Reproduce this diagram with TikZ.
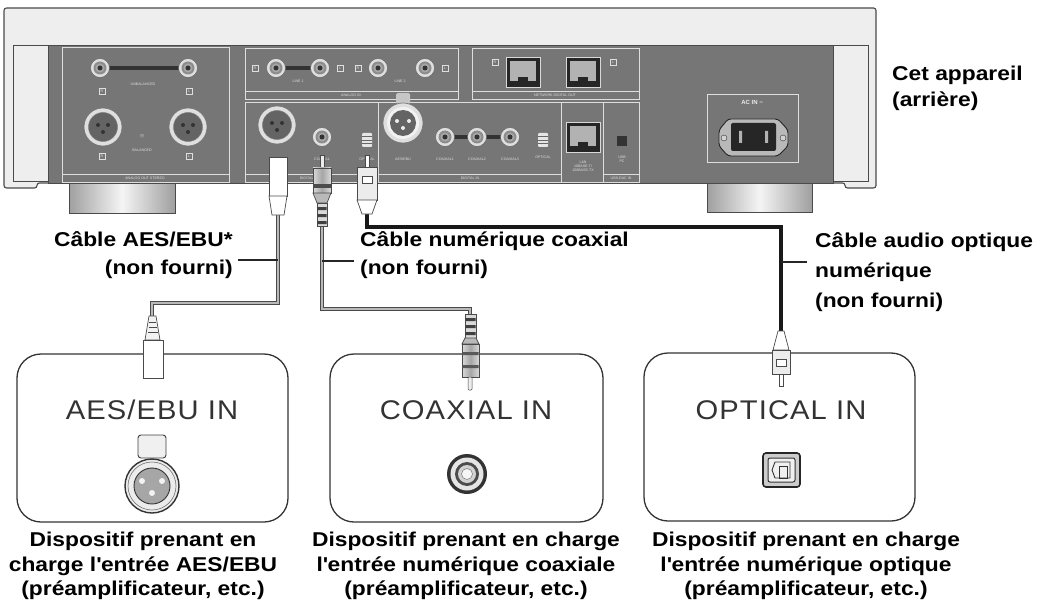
\documentclass[tikz,border=0pt]{standalone}
\usepackage{fontspec}
\setmainfont{Liberation Sans}
\newfontfamily\lblfont[FakeStretch=1.14]{Liberation Sans}
\newfontfamily\boxfont[FakeStretch=1.08,LetterSpace=4]{Liberation Sans}
\definecolor{panel}{HTML}{767676}
\definecolor{chassis}{HTML}{EEEEEE}
\definecolor{outl}{HTML}{4A4A4A}
\definecolor{secline}{HTML}{DEDEDE}
\begin{document}
\begin{tikzpicture}[x=1pt,y=-1pt,
  sec/.style={draw=secline, line width=0.9pt},
  tinytxt/.style={font=\fontsize{3.6}{4}\selectfont, text=white!88!black, inner sep=0pt, align=center},
  rl/.style={draw=secline, line width=0.5pt, font=\fontsize{3.6}{4}\selectfont, text=white!88!black, inner sep=0.8pt, minimum size=6pt},
  cableg/.style={draw=outl, line width=0.9pt, double=gray!55, double distance=2.6pt},
  cableb/.style={draw=black!90, line width=3.8pt},
  leader/.style={draw=black!85, line width=1.3pt},
  plugl/.style={draw=outl, line width=0.7pt},
  devbox/.style={draw=black!80, line width=1.3pt, rounded corners=24pt, minimum width=271pt, minimum height=168pt, inner sep=0pt},
  boxlbl/.style={font=\boxfont\fontsize{27}{27}\selectfont, text=black!80, inner sep=0pt},
  lbl/.style={font=\lblfont\bfseries\fontsize{20}{28}\selectfont, inner sep=0pt},
  captxt/.style={font=\lblfont\bfseries\fontsize{20}{24.5}\selectfont, inner sep=0pt, align=center},
  rca/.pic={
    \fill[gray!25] (0,0) circle (9.5pt);
    \draw[black!60, line width=0.5pt] (0,0) circle (9.5pt);
    \fill[black!45] (0,0) circle (6.5pt);
    \fill[gray!70] (0,0) circle (4.5pt);
    \fill[black!80] (0,0) circle (2.5pt);},
  xlrm/.pic={
    \fill[gray!25] (0,0) circle (19pt);
    \draw[black!55, line width=0.6pt] (0,0) circle (19pt);
    \fill[panel!85!black] (0,0) circle (14.5pt);
    \draw[black!50, line width=0.5pt] (0,0) circle (14.5pt);
    \fill[black!80] (-5,-2) circle (2pt) (5,-2) circle (2pt) (0,5) circle (2pt);},
  optp/.pic={
    \fill[gray!20, rounded corners=1pt] (-5,-7) rectangle (5,7);
    \draw[black!60, line width=0.5pt] (-5,0) -- (5,0) (-5,-3.5) -- (5,-3.5) (-5,3.5) -- (5,3.5);},
  lan/.pic={
    \fill[black!85] (-17,-15) rectangle (17,15);
    \fill[gray!60] (-13,-11) rectangle (13,9);
    \fill[black!85] (-5,5) rectangle (5,9);
    \draw[gray!30, line width=0.4pt] (-17,-15) rectangle (17,15);}
]
\useasboundingbox (0,0) rectangle (1043,604);

% ---------- feet ----------
\path[left color=gray!75, right color=gray!75, middle color=gray!8, draw=outl, line width=0.8pt] (69,183) rectangle (175,213);
\path[left color=gray!75, right color=gray!75, middle color=gray!8, draw=outl, line width=0.8pt] (707,183) rectangle (812,212);

% ---------- chassis ----------
\path[fill=chassis, draw=outl, line width=1.1pt, rounded corners=2.5pt]
  (4,188) -- (4,8) -- (876,8) -- (876,188) -- (845,188) -- (845,183) -- (37,183) -- (37,188) -- cycle;
\draw[outl, line width=0.8pt] (13,45) -- (868,45);
\draw[outl, line width=0.6pt] (13,45) -- (13,181) -- (48,181);
\draw[outl, line width=0.6pt] (868,45) -- (868,181) -- (833,181);
\path[fill=panel, draw=outl, line width=0.8pt] (48,45) rectangle (833,183);

% ---------- sections ----------
\draw[sec] (62,47) rectangle (229,182) (62,174) -- (229,174);
\draw[sec] (245,48) rectangle (458,99) (245,91) -- (458,91);
\draw[sec] (472,48) rectangle (639,99) (472,91) -- (639,91);
\draw[sec] (245,102) rectangle (639,182) (245,174) -- (561,174) (603,174) -- (639,174);
\draw[sec] (378,102) -- (378,182) (561,102) -- (561,182) (603,102) -- (603,182);
\draw[sec] (707,94) rectangle (798,162);

% analog out
\fill[black!80] (100,66) rectangle (188,70);
\pic at (100,68) {rca};
\pic at (188,68) {rca};
\node[rl] (r1) at (102,91) {R};
\node[rl] (l1) at (189,91) {L};
\node[tinytxt] (t1) at (143,84) {UNBALANCED};
\pic at (103,127) {xlrm};
\pic at (188,127) {xlrm};
\node[tinytxt] (t2) at (142,136) {$\equiv$};
\node[tinytxt] (t3) at (142,150) {BALANCED};
\node[rl] (r2) at (102,156) {R};
\node[rl] (l2) at (189,156) {L};
\node[tinytxt] (t4) at (145,178) {ANALOG OUT STEREO};

% analog in
\fill[black!80] (276,66) rectangle (320,70);
\pic at (276,68) {rca};
\pic at (320,68) {rca};
\pic at (378,68) {rca};
\pic at (425,68) {rca};
\node[rl] (r3) at (255,68) {R};
\node[rl] (l3) at (340,68) {L};
\node[rl] (r4) at (358,68) {R};
\node[rl] (l4) at (445,68) {L};
\node[tinytxt] (t5) at (298,81) {LINE 1};
\node[tinytxt] (t6) at (400,81) {LINE 2};
\node[tinytxt] (t7) at (351,95) {ANALOG IN};

% network digital out
\pic at (523,72) {lan};
\pic at (583,72) {lan};
\node[rl] (r5) at (495,62) {R};
\node[rl] (l5) at (613,62) {L};
\node[tinytxt] (t8) at (555,95) {NETWORK DIGITAL OUT};

% digital out
\pic at (277,125) {xlrm};
\pic at (322,137) {rca};
\pic at (367,140) {optp};
\node[tinytxt] (t9) at (277,159) {AES/EBU};
\node[tinytxt] (t10) at (322,159) {COAXIAL};
\node[tinytxt] (t11) at (367,159) {OPTICAL};
\node[tinytxt] (t12) at (311,178) {DIGITAL OUT};

% digital in
\fill[gray!45, rounded corners=1.5pt] (396,93) rectangle (410,104);
\fill[gray!25] (403,123) circle (20pt);
\draw[black!55, line width=0.6pt] (403,123) circle (20pt);
\fill[gray!10] (403,123) circle (16pt);
\fill[panel!85!black] (403,123) circle (13pt);
\fill[gray!15] (397,121) circle (2pt) (409,121) circle (2pt) (403,128) circle (2pt);
\fill[black!80] (445,135) rectangle (510,139);
\pic at (445,137) {rca};
\pic at (477,137) {rca};
\pic at (510,137) {rca};
\pic at (543,140) {optp};
\node[tinytxt] (t13) at (403,159) {AES/EBU};
\node[tinytxt] (t14) at (445,159) {COAXIAL1};
\node[tinytxt] (t15) at (477,159) {COAXIAL2};
\node[tinytxt] (t16) at (510,159) {COAXIAL3};
\node[tinytxt] (t17) at (543,157) {OPTICAL};
\node[tinytxt] (t18) at (470,178) {DIGITAL IN};

% lan / usb
\pic at (583,137) {lan};
\node[tinytxt] (t19) at (583,166) {LAN\\10BASE-T/\\100BASE-TX};
\fill[black!80] (617,136) rectangle (627,146);
\node[tinytxt] (t20) at (622,159) {USB\\PC};
\node[tinytxt] (t21) at (621,178) {USB-DAC IN};

% AC inlet
\node[font=\bfseries\fontsize{6}{6}\selectfont, text=white!92!black, inner sep=0pt] (acin) at (752,102) {AC IN \textasciitilde};
\path[fill=gray!55, draw=black!85, line width=0.9pt, rounded corners=3pt]
  (719,130) -- (728,119) -- (778,119) -- (788,130) -- (788,146) -- (778,156) -- (728,156) -- (719,146) -- cycle;
\draw[black!80, fill=gray!35] (724,138) circle (3pt) (783,138) circle (3pt);
\fill[black!85, rounded corners=2pt] (731,123) rectangle (776,151);
\fill[gray!60] (739,131) rectangle (742,143) (765,131) rectangle (768,143);

% ---------- cables ----------
\coordinate (aesTop) at (278,214);
\coordinate (aesBend) at (152,303);
\coordinate (aesBot) at (152,317);
\coordinate (coaxTop) at (322,225);
\coordinate (coaxBend) at (470,309);
\coordinate (coaxBot) at (470,315);
\coordinate (optTop) at (367,213);
\coordinate (optBend) at (781,227);
\coordinate (optBot) at (781,332);
\draw[cableg] (aesTop) |- (aesBend) -- (aesBot);
\draw[cableg] (coaxTop) |- (coaxBend) -- (coaxBot);
\draw[cableb] (optTop) |- (optBend) -- (optBot);

% ---------- plugs at the unit ----------
% AES/EBU (XLR)
\draw[plugl, fill=white] (269,157) rectangle (287,196);
\draw[plugl, fill=white] (269,196) -- (287,196) -- (284,215) -- (272,215) -- cycle;
% coaxial (RCA)
\draw[plugl, fill=gray!15, line width=0.5pt] (320,155) rectangle (324,168);
\draw[plugl, left color=gray!30, right color=gray!30, middle color=gray!70] (313,168) rectangle (331,193);
\fill[black!70] (313.4,184) rectangle (330.6,188);
\draw[plugl, fill=gray!55] (313,193) -- (331,193) -- (327,203) -- (317,203) -- cycle;
\draw[plugl, fill=gray!30] (317,203) rectangle (327,226);
\fill[black!75] (317.4,207) rectangle (326.6,210) (317.4,214) rectangle (326.6,217) (317.4,221) rectangle (326.6,224);
% optical
\draw[plugl, fill=white, line width=0.5pt] (365,155) rectangle (369,167);
\draw[plugl, fill=gray!15] (357,167) rectangle (377,200);
\draw[plugl, fill=white, line width=0.5pt] (362,176) rectangle (372,183);
\draw[plugl, fill=white] (357,200) -- (377,200) -- (372,214) -- (362,214) -- cycle;

% ---------- labels and leaders ----------
\node[lbl, align=right, anchor=east] (labAES) at (233,255) {Câble AES/EBU*\\(non fourni)};
\node[lbl, align=left, anchor=west] (labCOAX) at (360,255) {Câble numérique coaxial\\(non fourni)};
\node[lbl, align=left, anchor=west, font=\lblfont\bfseries\fontsize{20}{30}\selectfont] (labOPT) at (815,272) {Câble audio optique\\numérique\\(non fourni)};
\node[lbl, align=left, anchor=west, font=\lblfont\bfseries\fontsize{20}{26}\selectfont] (labDev) at (892,88) {Cet appareil\\(arrière)};
\coordinate (aesLead) at (238,260);
\coordinate (aesTap) at (278,260);
\coordinate (coaxLead) at (354,261);
\coordinate (coaxTap) at (322,261);
\coordinate (optLead) at (807,262);
\coordinate (optTap) at (781,262);
\draw[leader] (aesLead) -- (aesTap);
\draw[leader] (coaxLead) -- (coaxTap);
\draw[leader] (optLead) -- (optTap);

% ---------- device boxes ----------
\node[devbox] (boxAES) at (152.5,438) {};
\node[devbox, minimum width=273pt] (boxCOAX) at (466.5,438) {};
\node[devbox] (boxOPT) at (779.5,437) {};
\node[boxlbl] (tAES) at (152,410) {AES/EBU IN};
\node[boxlbl] (tCOAX) at (466,410) {COAXIAL IN};
\node[boxlbl] (tOPT) at (781,410) {OPTICAL IN};

% XLR female socket
\draw[black!75, line width=0.9pt, fill=gray!12, rounded corners=3pt] (138,435) rectangle (166,458);
\draw[black!80, line width=1.4pt, fill=gray!15] (152,486) circle (27pt);
\draw[black!55, line width=0.6pt] (152,486) circle (24pt);
\draw[black!80, line width=0.9pt, fill=gray!70] (152,486) circle (18pt);
\fill[gray!10] (142,481) circle (3pt) (162,481) circle (3pt) (152,493) circle (3pt);
% coaxial socket
\fill[black!80] (467,474) circle (20pt);
\fill[gray!20] (467,474) circle (16.5pt);
\fill[black!70] (467,474) circle (12pt);
\fill[gray!35] (467,474) circle (9pt);
\draw[black!60, fill=gray!8] (467,474) circle (5.5pt);
% optical socket
\draw[black!85, line width=1.6pt, fill=gray!40, rounded corners=3pt] (763,453) rectangle (800,487);
\draw[black!80, line width=1pt, fill=gray!12, rounded corners=2pt] (768,458) rectangle (795,482);
\draw[black!80, line width=0.9pt] (775,462) -- (790,462) -- (790,478) -- (775,478) -- (772,470) -- cycle;
\draw[black!80, line width=0.9pt] (779,466) rectangle (787,478);

% ---------- plugs at the devices ----------
% XLR plug
\draw[plugl, fill=gray!10] (149,316) -- (156,316) -- (160,340) -- (145,340) -- cycle;
\draw[outl, line width=0.5pt] (149,322) -- (156,322) (148.5,327) -- (156.8,327) (148,332) -- (157.5,332);
\draw[plugl, fill=white] (143,340) rectangle (163,378);
% RCA plug
\draw[plugl, fill=gray!30] (465,314) rectangle (476,338);
\fill[black!75] (465.4,318) rectangle (475.6,321) (465.4,325) rectangle (475.6,328) (465.4,332) rectangle (475.6,335);
\draw[plugl, fill=gray!55] (465,338) -- (476,338) -- (479,344) -- (462,344) -- cycle;
\draw[plugl, left color=gray!30, right color=gray!30, middle color=gray!70] (462,344) rectangle (479,377);
\fill[black!65] (462.4,352) rectangle (478.6,355) (462.4,365) rectangle (478.6,368);
\draw[plugl, fill=gray!15, line width=0.5pt, rounded corners=1pt] (468,377) rectangle (472,390);
% optical plug
\draw[plugl, fill=white] (778,331) -- (784,331) -- (789,350) -- (773,350) -- cycle;
\draw[plugl, fill=gray!15] (772,350) rectangle (790,374);
\draw[plugl, fill=white, line width=0.5pt] (776,359) rectangle (786,366);
\draw[plugl, fill=white, line width=0.5pt] (779,374) rectangle (783,386);

% ---------- captions ----------
\node[captxt] (capAES) at (143,566) {Dispositif prenant en\\charge l\textquotesingle entrée AES/EBU\\(préamplificateur, etc.)};
\node[captxt] (capCOAX) at (466,566) {Dispositif prenant en charge\\l\textquotesingle entrée numérique coaxiale\\(préamplificateur, etc.)};
\node[captxt] (capOPT) at (806,566) {Dispositif prenant en charge\\l\textquotesingle entrée numérique optique\\(préamplificateur, etc.)};
\end{tikzpicture}
\end{document}
